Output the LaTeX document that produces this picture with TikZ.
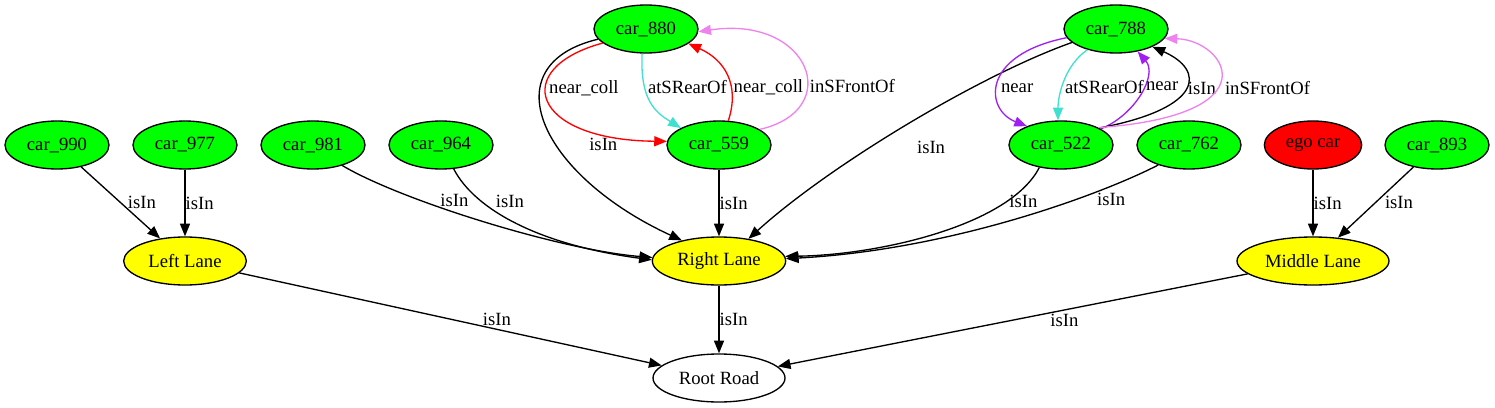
\documentclass[tikz,border=0pt]{standalone}
\usepackage{fontspec}
\setmainfont{Liberation Serif}
\usetikzlibrary{positioning,arrows.meta,shapes.geometric}

\definecolor{carGreen}{HTML}{00FF00}
\definecolor{laneYellow}{HTML}{FFFF00}
\definecolor{egoRed}{HTML}{FF0000}
\definecolor{turq}{HTML}{40E0D0}
\definecolor{viol}{HTML}{EE82EE}
\definecolor{purp}{HTML}{A020F0}

\begin{document}
\begin{tikzpicture}[->,>={Triangle[length=9.5pt,width=7.5pt]},x=0.75pt,y=0.75pt,
                    node distance=96pt,line width=1pt,
                    via/.style 2 args={to path={.. controls #1 and #2 .. (\tikztotarget) \tikztonodes}}]
  \tikzstyle{every node}=[font=\fontsize{14}{16}\selectfont]
  \tikzstyle{obj}=[ellipse,draw=black,minimum height=36pt,inner sep=0pt]
  \tikzstyle{car}=[obj,fill=carGreen,minimum width=78pt]
  \tikzstyle{lane}=[obj,fill=laneYellow]
  \tikzstyle{lbl}=[inner sep=0pt,anchor=west]

  \useasboundingbox (0,0) rectangle (1495,-407);

  \node[car]  (car990)              at (57,-145)   {car\_990};
  \node[car]  (car977)  [right of=car990]          {car\_977};
  \node[car]  (car981)  [right of=car977]          {car\_981};
  \node[car]  (car964)  [right of=car981]          {car\_964};
  \node[car]  (car880)              at (646,-29)   {car\_880};
  \node[car]  (car559)              at (719,-145)  {car\_559};
  \node[car]  (car788)              at (1116,-29)  {car\_788};
  \node[car]  (car522)              at (1061,-145) {car\_522};
  \node[car]  (car762)  [right of=car522]          {car\_762};
  \node[obj,fill=egoRed,minimum width=73pt] (egoCar) at (1313,-145) {ego car};
  \node[car]  (car893)              at (1437,-145) {car\_893};
  \node[lane,minimum width=92pt]  (leftLane)  [below of=car977,node distance=87pt] {Left Lane};
  \node[lane,minimum width=100pt] (rightLane) at (719,-261)  {Right Lane};
  \node[lane,minimum width=114pt] (midLane)   at (1313,-261) {Middle Lane};
  \node[obj,minimum width=99pt]   (rootRoad)  at (719,-378)  {Root Road};

  % isIn towards the lanes and the road
  \path (car990) edge node[lbl,xshift=5pt] {isIn} (leftLane)
        (car977) edge node[lbl] {isIn} (leftLane)
        (car981.-35) edge [via={(400,-200)}{(560,-250)}] node[lbl,pos=.37,anchor=south west] {isIn} (rightLane.177)
        (car964.298) edge [via={(475,-210)}{(540,-245)}] node[lbl,pos=.28,xshift=10pt] {isIn} (rightLane.179)
        (car880.192) edge [via={(490,-65)}{(540,-175)}] node[lbl,pos=.58,xshift=24pt] {isIn} (rightLane.151)
        (car559) edge node[lbl] {isIn} (rightLane)
        (car788.197) edge [via={(980,-75)}{(830,-165)}] node[lbl,pos=.6,xshift=34pt] {isIn} (rightLane.37)
        (car522.226) edge [via={(1010,-225)}{(880,-255)}] node[lbl,pos=.22,xshift=1.5pt] {isIn} (rightLane.4)
        (car762.213) edge [via={(1100,-195)}{(950,-250)}] node[lbl,pos=.3,xshift=10pt,yshift=-2pt] {isIn} (rightLane.2)
        (egoCar) edge node[lbl] {isIn} (midLane)
        (car893) edge node[lbl,xshift=6.5pt] {isIn} (midLane)
        (leftLane) edge node[lbl,pos=.61,anchor=south,yshift=2pt] {isIn} (rootRoad)
        (rightLane) edge node[lbl] {isIn} (rootRoad)
        (midLane) edge node[lbl,pos=.39,anchor=north,yshift=-3pt] {isIn} (rootRoad);

  % relations between cars
  \path (car880.198) edge [draw=red,via={(510,-68)}{(530,-140)}] node[lbl,pos=.4,xshift=2pt] {near\_coll} (car559.176)
        (car880.261) edge [draw=turq,via={(640,-100)}{(655,-112)}] node[lbl,pos=.3,xshift=2pt] {atSRearOf} (car559.156)
        (car559.69) edge [draw=red,via={(740,-85)}{(725,-60)}] node[lbl,pos=.35,xshift=1.5pt] {near\_coll} (car880.341)
        (car559.21) edge [draw=viol,via={(845,-110)}{(810,-15)}] node[lbl,pos=.37,xshift=1.5pt] {inSFrontOf} (car880.357)
        (car788.190) edge [draw=purp,via={(980,-55)}{(985,-110)}] node[lbl,pos=.55,xshift=2pt] {near} (car522.151)
        (car788.216) edge [draw=turq,via={(1065,-65)}{(1058,-95)}] node[lbl,pos=.58,xshift=1.5pt] {atSRearOf} (car522.97)
        (car522.22) edge [draw=purp,via={(1135,-115)}{(1158,-75)}] node[lbl,pos=.58,xshift=2pt] {near} (car788.314)
        (car522.24) edge [via={(1205,-108)}{(1205,-70)}] node[lbl,pos=.5,xshift=1.5pt] {isIn} (car788.334)
        (car522.25) edge [draw=viol,via={(1275,-115)}{(1225,-40)}] node[lbl,pos=.43,xshift=5pt] {inSFrontOf} (car788.349);
\end{tikzpicture}
\end{document}
